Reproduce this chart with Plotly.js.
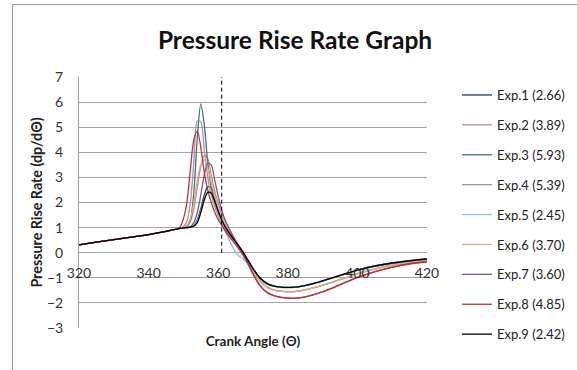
<!DOCTYPE html>
<html>
<head>
<meta charset="utf-8">
<script src="https://cdn.plot.ly/plotly-3.0.1.min.js"></script>
<style>
  html, body { margin: 0; padding: 0; background: #fff; }
  #wrap { position: relative; width: 577px; height: 370px; overflow: hidden; }
  #frame { position: absolute; left: 12px; top: 4px; width: 600px; height: 400px;
           border-left: 1px solid #9a9a9a; border-top: 1px solid #9a9a9a; pointer-events: none; }
  #chart { position: absolute; left: 0; top: 0; width: 577px; height: 370px; }
</style>
</head>
<body>
<div id="wrap"><div id="chart"></div><div id="frame"></div></div>
<script>
// Crank angle (deg)
const crankAngle = [320,325,330,335,340,345,348,349,350,351,352,353,354,355,356,357,358,359,360,361,362,363,364,365,366,367,368,370,372,374,376,378,380,382,384,386,388,390,393,396,400,405,410,415,420];

// Pressure rise rate (dp/dθ) per experiment
const exp1 = [0.31,0.42,0.52,0.62,0.72,0.85,0.94,0.97,0.99,1.00,1.02,1.08,1.30,1.75,2.30,2.62,2.60,2.20,1.70,1.35,1.08,0.85,0.64,0.45,0.26,0.06,-0.16,-0.62,-1.00,-1.22,-1.32,-1.37,-1.38,-1.37,-1.33,-1.27,-1.20,-1.12,-0.99,-0.86,-0.69,-0.53,-0.41,-0.32,-0.25];
const exp2 = [0.31,0.42,0.52,0.62,0.72,0.85,0.94,0.97,1.00,1.05,1.25,1.75,2.60,3.45,3.88,3.75,3.10,2.45,1.95,1.55,1.25,0.98,0.72,0.48,0.25,0.03,-0.20,-0.72,-1.12,-1.37,-1.49,-1.54,-1.56,-1.55,-1.51,-1.45,-1.38,-1.30,-1.17,-1.03,-0.84,-0.65,-0.50,-0.39,-0.31];
const exp3 = [0.31,0.42,0.52,0.62,0.72,0.85,0.94,0.97,1.00,1.05,1.30,2.40,4.60,5.93,5.10,3.60,2.60,1.95,1.50,1.18,0.95,0.75,0.56,0.38,0.20,0.01,-0.20,-0.66,-1.03,-1.24,-1.34,-1.38,-1.39,-1.38,-1.34,-1.28,-1.21,-1.13,-1.00,-0.87,-0.70,-0.54,-0.42,-0.33,-0.26];
const exp4 = [0.31,0.42,0.52,0.62,0.72,0.85,0.94,0.97,1.03,1.25,2.00,3.60,5.25,5.20,4.10,3.00,2.30,1.85,1.50,1.22,0.98,0.77,0.57,0.38,0.19,0.00,-0.22,-0.72,-1.12,-1.36,-1.48,-1.53,-1.55,-1.54,-1.50,-1.44,-1.37,-1.29,-1.16,-1.02,-0.83,-0.64,-0.49,-0.38,-0.30];
const exp5 = [0.31,0.42,0.52,0.62,0.72,0.85,0.94,0.97,0.99,1.00,1.02,1.07,1.25,1.65,2.15,2.43,2.40,2.00,1.55,1.15,0.84,0.55,0.26,0.02,-0.14,-0.22,-0.36,-0.74,-1.06,-1.24,-1.33,-1.37,-1.38,-1.37,-1.33,-1.27,-1.20,-1.12,-0.99,-0.86,-0.69,-0.53,-0.41,-0.32,-0.25];
const exp6 = [0.31,0.42,0.52,0.62,0.72,0.85,0.94,0.97,1.00,1.08,1.35,2.00,2.90,3.50,3.70,3.40,2.80,2.25,1.80,1.42,1.12,0.87,0.63,0.41,0.20,-0.01,-0.23,-0.73,-1.13,-1.37,-1.49,-1.54,-1.56,-1.55,-1.51,-1.45,-1.38,-1.30,-1.17,-1.03,-0.84,-0.65,-0.50,-0.39,-0.31];
const exp7 = [0.31,0.42,0.52,0.62,0.72,0.85,0.94,0.97,0.99,1.00,1.04,1.20,1.60,2.30,3.10,3.55,3.50,2.90,2.25,1.70,1.30,1.00,0.73,0.48,0.24,0.01,-0.24,-0.82,-1.30,-1.58,-1.71,-1.77,-1.80,-1.81,-1.78,-1.72,-1.64,-1.55,-1.39,-1.21,-0.98,-0.75,-0.57,-0.44,-0.35];
const exp8 = [0.31,0.42,0.52,0.62,0.72,0.85,0.94,1.02,1.35,2.00,3.30,4.50,4.84,4.20,3.20,2.50,2.00,1.62,1.32,1.10,0.88,0.68,0.50,0.32,0.13,-0.07,-0.30,-0.86,-1.31,-1.58,-1.71,-1.78,-1.81,-1.82,-1.79,-1.73,-1.65,-1.56,-1.40,-1.22,-0.99,-0.76,-0.58,-0.45,-0.36];
const exp9 = [0.31,0.42,0.52,0.62,0.72,0.85,0.94,0.97,0.99,1.00,1.02,1.06,1.20,1.60,2.10,2.40,2.38,2.05,1.65,1.30,1.04,0.82,0.62,0.43,0.24,0.04,-0.18,-0.64,-1.01,-1.23,-1.33,-1.37,-1.38,-1.37,-1.33,-1.27,-1.20,-1.12,-0.99,-0.86,-0.69,-0.53,-0.41,-0.32,-0.25];

const seriesNames = ["Exp.1 (2.66)","Exp.2 (3.89)","Exp.3 (5.93)","Exp.4 (5.39)","Exp.5 (2.45)","Exp.6 (3.70)","Exp.7 (3.60)","Exp.8 (4.85)","Exp.9 (2.42)"];
const seriesValues = [exp1, exp2, exp3, exp4, exp5, exp6, exp7, exp8, exp9];
const seriesColors = ["#1f3a55","#c48a88","#3f7478","#a293ab","#8fc3cb","#dcb07e","#7a5990","#c4303a","#000000"];

// TDC reference (dashed)
const tdcAngle = [361, 361];
const tdcRange = [0, 7];

const xTicks = [320, 340, 360, 380, 400, 420];

const FONT = "Lato, 'Open Sans', 'DejaVu Sans', sans-serif";

const traces = seriesNames.map((n, i) => ({
  x: crankAngle, y: seriesValues[i], name: n, type: "scatter", mode: "lines",
  line: { color: seriesColors[i], width: 1.3, shape: "spline", smoothing: 0.8 },
  legendgroup: "g" + i
}));
traces.push({
  x: tdcAngle, y: tdcRange, type: "scatter", mode: "lines", showlegend: false,
  line: { color: "#000", width: 1, dash: "4px,3px" }, hoverinfo: "skip"
});

const layout = {
  width: 577, height: 370,
  margin: { l: 79, r: 150, t: 77, b: 42, autoexpand: false },
  paper_bgcolor: "rgba(0,0,0,0)", plot_bgcolor: "#fff",
  font: { family: FONT, color: "#222", size: 14 },
  title: { text: "<b>Pressure Rise Rate Graph</b>", font: { family: FONT, size: 24.5, color: "#111" },
           x: 295 / 577, xanchor: "center", xref: "container", y: 1 - 40 / 370, yanchor: "middle" },
  xaxis: {
    range: [320, 420], tickvals: xTicks, ticks: "", showgrid: false, zeroline: false, showline: false,
    anchor: "free", position: 0.3, ticklabelstandoff: 10, automargin: false,
    tickfont: { family: FONT, size: 14, color: "#333" },
    title: { text: "<b>Crank Angle (Θ)</b>", font: { family: FONT, size: 13.5, color: "#222" }, standoff: 56 }
  },
  yaxis: {
    range: [-3, 7], dtick: 1, tick0: -3, ticks: "", showgrid: true, gridcolor: "#a3a3a3", gridwidth: 1,
    zeroline: false, showline: true, linecolor: "#a3a3a3", linewidth: 1, ticklabelstandoff: 12, automargin: false,
    tickfont: { family: FONT, size: 14, color: "#333" },
    title: { text: "<b>Pressure Rise Rate (dp/dΘ)</b>", font: { family: FONT, size: 14.3, color: "#222" }, standoff: 0 }
  },
  showlegend: true,
  legend: {
    x: (457 - 79) / 348, xanchor: "left", y: (328 - 80) / 251, yanchor: "top",
    font: { family: FONT, size: 13, color: "#222" }, tracegroupgap: 10,
    bgcolor: "rgba(0,0,0,0)", itemwidth: 30, maxheight: 340
  }
};

Plotly.newPlot("chart", traces, layout, { staticPlot: true, displayModeBar: false });
</script>
</body>
</html>
